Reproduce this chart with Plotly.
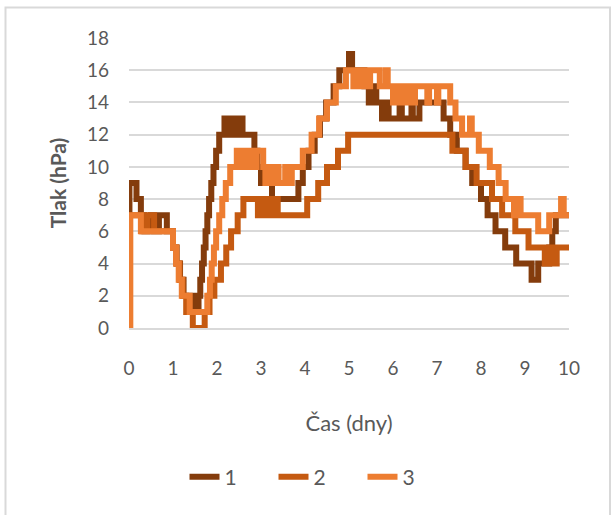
import plotly.graph_objects as go

# Pressure readings per sensor: times (days) where the reading changes, and the new value (hPa)
t1 = [0, 0.01, 0.17, 0.27, 0.35, 0.50, 0.60, 0.68, 0.86, 1.00, 1.08, 1.16, 1.24, 1.45,
      1.58, 1.62, 1.66, 1.70, 1.74, 1.78, 1.82, 1.87, 1.92, 1.98, 2.05, 2.17, 2.22, 2.25,
      2.35, 2.38, 2.48, 2.51, 2.58, 2.85, 2.92, 3.00, 3.25, 3.85, 3.95, 4.08, 4.22, 4.34,
      4.48, 4.65, 4.78, 5.00, 5.07, 5.35, 5.45, 5.55, 5.62, 5.75, 5.85, 5.90, 6.15, 6.20,
      6.42, 6.45, 6.60, 7.15, 7.30, 7.45, 7.65, 7.80, 8.00, 8.15, 8.33, 8.55, 8.80, 9.15,
      9.30, 9.55, 9.62, 9.70, 10.0]
p1 = [0, 9, 8, 7, 6, 7, 6, 7, 6, 5, 4, 3, 2, 1,
      2, 3, 4, 5, 6, 7, 8, 9, 10, 11, 12, 13, 12, 13,
      12, 13, 12, 13, 12, 11, 10, 9, 8, 9, 10, 11, 12, 13,
      14, 15, 16, 17, 16, 15, 14, 15, 14, 13, 14, 13, 14, 13,
      14, 13, 14, 13, 12, 11, 10, 9, 8, 7, 6, 5, 4, 3,
      4, 5, 6, 7, 7]

t2 = [0, 0.02, 0.30, 0.42, 0.57, 1.00, 1.08, 1.15, 1.22, 1.30, 1.45, 1.72, 1.83, 1.94,
      2.09, 2.21, 2.32, 2.47, 2.60, 2.93, 2.97, 3.02, 3.08, 3.12, 3.20, 3.25, 3.30, 3.38,
      4.05, 4.30, 4.50, 4.75, 4.98, 7.35, 7.65, 7.90, 8.25, 8.48, 8.78, 9.08, 9.45, 9.52,
      9.58, 9.62, 9.66, 9.72, 10.0]
p2 = [0, 7, 6, 7, 6, 5, 4, 3, 2, 1, 0, 1, 2, 3,
      4, 5, 6, 7, 8, 7, 8, 7, 8, 7, 8, 7, 8, 7,
      8, 9, 10, 11, 12, 11, 10, 9, 8, 7, 6, 5, 4, 5,
      4, 5, 4, 5, 5]

t3 = [0, 0.03, 0.27, 1.00, 1.07, 1.13, 1.20, 1.38, 1.78, 1.84, 1.88, 1.93, 1.98, 2.05,
      2.12, 2.20, 2.30, 2.45, 2.52, 2.55, 2.62, 2.66, 2.75, 2.78, 2.86, 2.90, 3.05, 3.10,
      3.15, 3.25, 3.30, 3.40, 3.55, 3.60, 3.70, 3.95, 4.15, 4.32, 4.50, 4.70, 4.93, 5.10,
      5.13, 5.20, 5.23, 5.33, 5.36, 5.45, 5.48, 5.70, 5.84, 5.88, 6.00, 6.03, 6.15, 6.20,
      6.30, 6.33, 6.45, 6.50, 6.78, 6.82, 7.00, 7.03, 7.30, 7.42, 7.57, 7.75, 7.79, 7.95,
      8.20, 8.40, 8.56, 8.75, 8.85, 8.90, 9.30, 9.55, 9.82, 9.88, 10.0]
p3 = [0, 7, 6, 5, 4, 3, 2, 1, 2, 3, 4, 5, 6, 7,
      8, 9, 10, 11, 10, 11, 10, 11, 10, 11, 10, 11, 10, 9,
      10, 9, 10, 9, 10, 9, 10, 11, 12, 13, 14, 15, 16, 15,
      16, 15, 16, 15, 16, 15, 16, 15, 16, 15, 14, 15, 14, 15,
      14, 15, 14, 15, 14, 15, 14, 15, 14, 13, 12, 13, 12, 11,
      10, 9, 8, 7, 8, 7, 6, 7, 8, 7, 7]

names = ["1", "2", "3"]
colors = ["#843C0C", "#C55A11", "#ED7D31"]
x_ticks = list(range(0, 11))
y_ticks = list(range(0, 19, 2))

W, H = 616, 515
L, R, T, B = 129, 47, 38, 187
pw, ph = W - L - R, H - T - B


def px(x):
    return (x - L) / pw


def py(y):
    return (H - B - y) / ph


fig = go.Figure()
for tt, pp, nm, col in zip([t1, t2, t3], [p1, p2, p3], names, colors):
    fig.add_trace(go.Scatter(x=tt, y=pp, name=nm, mode="lines", line_shape="hv",
                             line=dict(color=col, width=6)))

font_family = "Lato, Carlito, Calibri, sans-serif"
fig.update_layout(
    width=W, height=H,
    margin=dict(l=L, r=R, t=T, b=B),
    paper_bgcolor="white", plot_bgcolor="white",
    font=dict(family=font_family, color="#595959", size=18),
    showlegend=True,
    legend=dict(orientation="h", x=px(318), xanchor="center", y=py(477), yanchor="middle",
                font=dict(size=21, color="#595959"), traceorder="normal",
                entrywidth=44, entrywidthmode="pixels", tracegroupgap=0),
    xaxis=dict(range=[0, 10], tickvals=x_ticks, showgrid=False, zeroline=False,
               showline=True, linecolor="#d9d9d9", linewidth=2,
               ticks="", ticklabelstandoff=22, tickfont=dict(size=19),
               title=dict(text="Čas (dny)", font=dict(size=22, color="#595959"), standoff=38)),
    yaxis=dict(range=[0, 18], tickvals=y_ticks, showgrid=True, gridcolor="#d9d9d9",
               gridwidth=2, zeroline=False, showline=False, ticks="",
               ticklabelstandoff=19, tickfont=dict(size=19),
               title=dict(text="<b>Tlak (hPa)</b>", font=dict(size=21, color="#595959"), standoff=14)),
    shapes=[dict(type="rect", xref="paper", yref="paper",
                 x0=px(5.5), x1=px(610), y0=py(530), y1=py(7.5),
                 line=dict(color="#d9d9d9", width=2), layer="below")],
)

fig.write_html("out.html")
